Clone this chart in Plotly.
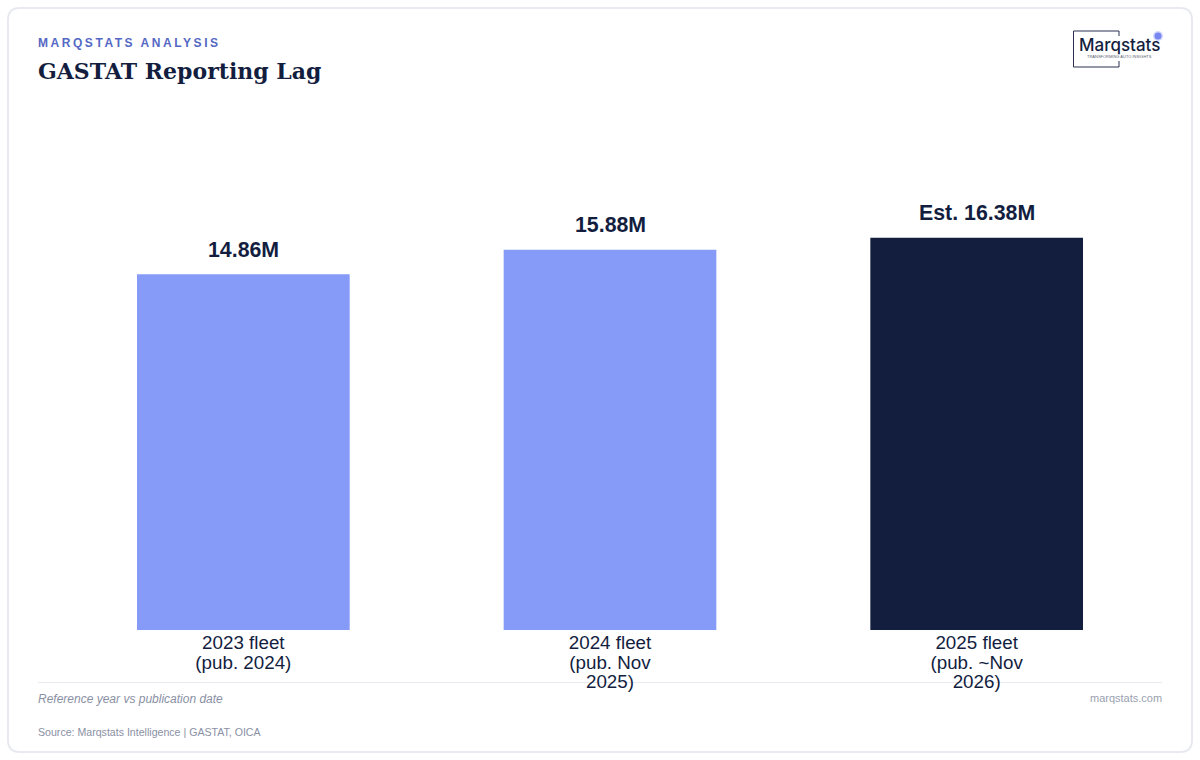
import plotly.graph_objects as go

# --- Data ---
CATEGORIES = ["2023 fleet<br>(pub. 2024)", "2024 fleet<br>(pub. Nov<br>2025)", "2025 fleet<br>(pub. ~Nov<br>2026)"]
FLEET_M = [14.86, 15.88, 16.38]
BAR_LABELS = ["14.86M", "15.88M", "Est. 16.38M"]
BAR_COLORS = ["#859BF7", "#859BF7", "#131E3F"]

# --- Page geometry (pixels) ---
WIDTH, HEIGHT = 1200, 760
LEFT, RIGHT, TOP, BOTTOM = 60, 1160, 199, 630
NAVY = "#131E3F"
LINE = "#E8EAF0"
LOGO = "#2A3050"


def px(x):
    return (x - LEFT) / (RIGHT - LEFT)


def py(y):
    return (BOTTOM - y) / (BOTTOM - TOP)


def note(x, y, text, size, color, anchor="left", family="Liberation Sans", weight="normal"):
    fig.add_annotation(
        x=px(x), y=py(y), xref="paper", yref="paper", text=text, showarrow=False,
        xanchor=anchor, yanchor="middle", align=anchor,
        font=dict(size=size, color=color, family=family, weight=weight),
    )


def line(x0, y0, x1, y1, color, width=1):
    fig.add_shape(
        type="line", xref="paper", yref="paper", layer="below",
        x0=px(x0), y0=py(y0), x1=px(x1), y1=py(y1),
        line=dict(color=color, width=width),
    )


fig = go.Figure(go.Bar(
    x=CATEGORIES, y=FLEET_M, width=0.58, marker=dict(color=BAR_COLORS, line_width=0),
))

fig.update_layout(
    width=WIDTH, height=HEIGHT, template="none", showlegend=False,
    paper_bgcolor="white", plot_bgcolor="white",
    margin=dict(l=LEFT, r=WIDTH - RIGHT, t=TOP, b=HEIGHT - BOTTOM, pad=0),
    font=dict(family="Liberation Sans", color=NAVY),
)
fig.update_xaxes(showgrid=False, showline=False, zeroline=False, ticks="", tickangle=0,
                 ticklabelstandoff=-1,
                 tickfont=dict(size=18.8, color=NAVY, family="Liberation Sans"), automargin=False)
fig.update_yaxes(range=[0, 18], visible=False, showgrid=False, zeroline=False)

# value labels sit further above the bars than the bar trace's own text allows
for cat, val, label in zip(CATEGORIES, FLEET_M, BAR_LABELS):
    fig.add_annotation(
        x=cat, y=val, yshift=24.5, text=f"<b>{label}</b>", showarrow=False, yanchor="middle",
        font=dict(size=21.33, color=NAVY, family="Liberation Sans"),
    )

# card outline with rounded corners
r = 12
x0, y0, x1, y1 = 8, 8, 1192, 752
fig.add_shape(
    type="path", xref="paper", yref="paper", layer="below",
    path=(
        f"M {px(x0 + r)} {py(y0)} L {px(x1 - r)} {py(y0)} Q {px(x1)} {py(y0)} {px(x1)} {py(y0 + r)} "
        f"L {px(x1)} {py(y1 - r)} Q {px(x1)} {py(y1)} {px(x1 - r)} {py(y1)} "
        f"L {px(x0 + r)} {py(y1)} Q {px(x0)} {py(y1)} {px(x0)} {py(y1 - r)} "
        f"L {px(x0)} {py(y0 + r)} Q {px(x0)} {py(y0)} {px(x0 + r)} {py(y0)} Z"
    ),
    line=dict(color=LINE, width=2),
)

# header
note(36, 43, "<b>MARQSTATS ANALYSIS</b>", 12, "#5468C4")
note(36, 71, "<b>GASTAT Reporting Lag</b>", 22, NAVY, family="DejaVu Serif")

# footer
line(38, 682.5, 1162, 682.5, LINE)
note(36, 699, "<i>Reference year vs publication date</i>", 12, "#8A90A4")
note(1164, 698, "marqstats.com", 11, "#9A9FB0", anchor="right")
note(36, 732, "Source: Marqstats Intelligence | GASTAT, OICA", 10.6, "#8A90A4")

# logo
line(1119, 31, 1073.5, 31, LOGO)
line(1073.5, 31, 1073.5, 67, LOGO)
line(1073.5, 67, 1119, 67, LOGO)
line(1119, 31, 1119, 36, LOGO)
line(1119, 61, 1119, 67, LOGO)
note(1119, 45, "Marqstats", 17, NAVY, anchor="center", family="Inter", weight=500)
note(1119, 56, "TRANSFORMING AUTO INSIGHTS", 4, "#5A6070", anchor="center")
for size, alpha in [(5, 0.25), (3.5, 0.7)]:
    fig.add_shape(
        type="circle", xref="paper", yref="paper",
        x0=px(1158 - size), y0=py(36 + size), x1=px(1158 + size), y1=py(36 - size),
        fillcolor=f"rgba(80,100,235,{alpha})", line_width=0,
    )

# letter spacing and tight tick lines have no layout option, so set them on the drawn text
post = """
document.body.style.margin = '0';
document.querySelectorAll('.annotation-text').forEach(function (t) {
    if (t.textContent === 'MARQSTATS ANALYSIS') t.style.letterSpacing = '2.55px';
});
document.querySelectorAll('.xtick text').forEach(function (txt) {
    txt.querySelectorAll('tspan.line').forEach(function (t, i) {
        t.setAttribute('dy', (i * 1.05) + 'em');
    });
});
"""
fig.write_html("out.html", post_script=post, config=dict(displayModeBar=False))
